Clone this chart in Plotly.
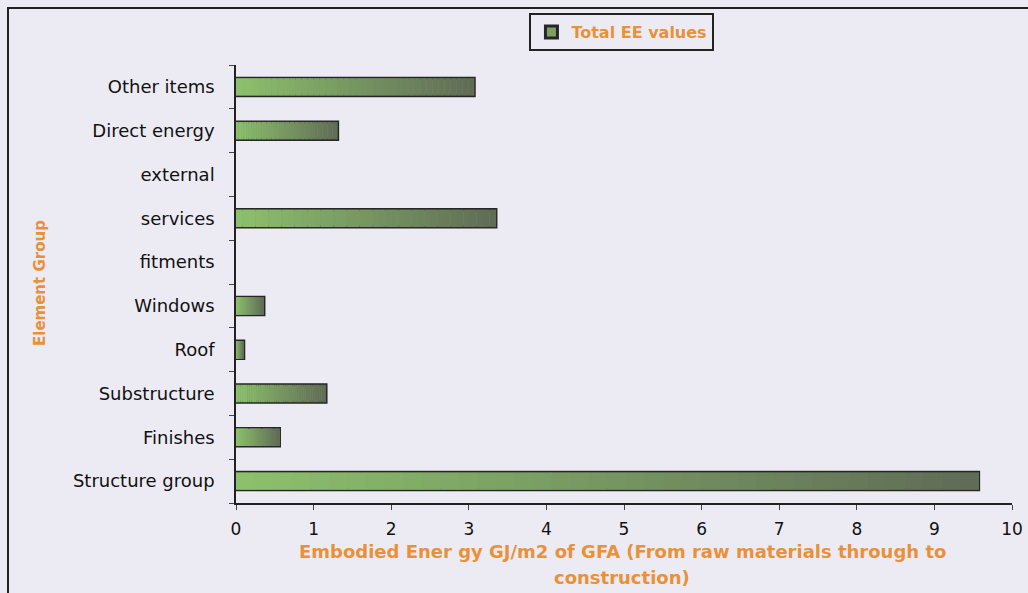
import plotly.graph_objects as go

categories = ["Structure group", "Finishes", "Substructure", "Roof", "Windows",
              "fitments", "services", "external", "Direct energy", "Other items"]
total_ee = [9.57, 0.56, 1.16, 0.10, 0.36, 0.0, 3.35, 0.0, 1.31, 3.07]
x_ticks = list(range(0, 11))

orange = "#e8913a"
bg = "#ecebf3"
font_fam = "DejaVu Sans, Arial, sans-serif"

W, H = 1028, 593
ML, MR, MT, MB = 236, 16, 65, 90
PW, PH = W - ML - MR, H - MT - MB

fig = go.Figure()
# base bar with outline (also the legend entry)
fig.add_trace(go.Bar(
    y=categories, x=total_ee, orientation="h", name="Total EE values",
    marker=dict(color="#7e9e63",
                line=dict(color="#262626", width=[3 if v > 0 else 0 for v in total_ee])),
))
# gradient overlay: each bar split into equal segments of its own length
N = 40
c0 = (140, 192, 108)
c1 = (96, 108, 86)
for k in range(N):
    t = k / (N - 1)
    col = "rgb(%d,%d,%d)" % tuple(round(a + (b - a) * t) for a, b in zip(c0, c1))
    fig.add_trace(go.Bar(
        y=categories, x=[v / N * 1.02 for v in total_ee], base=[v * k / N for v in total_ee],
        orientation="h", showlegend=False, hoverinfo="skip",
        marker=dict(color=col, line=dict(width=0)),
    ))

fig.update_layout(
    width=W, height=H,
    paper_bgcolor=bg, plot_bgcolor=bg,
    margin=dict(l=ML, r=MR, t=MT, b=MB, autoexpand=False),
    barmode="overlay", bargap=0.6,
    font=dict(family=font_fam, size=18, color="#111"),
    showlegend=True,
    legend=dict(
        x=0.605, y=0.978, xref="container", yref="container",
        xanchor="center", yanchor="top",
        orientation="h",
        bgcolor=bg, bordercolor="#222", borderwidth=2,
        font=dict(color=orange, size=16, family=font_fam, weight="bold"),
        itemwidth=30,
    ),
    xaxis=dict(
        range=[0, 10], tickvals=x_ticks, ticks="outside", ticklen=5,
        showline=True, linecolor="#222", linewidth=1.5, showgrid=False, zeroline=False,
        tickfont=dict(size=17, color="#111"), ticklabelstandoff=5, automargin=False,
    ),
    yaxis=dict(
        type="category", ticks="outside", ticklen=5, tickson="boundaries",
        showline=True, linecolor="#222", linewidth=1.5, showgrid=False,
        tickfont=dict(size=18, color="#111"), ticklabelstandoff=16, automargin=False,
    ),
    annotations=[
        dict(text="Element Group", textangle=-90,
             xref="paper", yref="paper", x=(40 - ML) / PW, y=(MT + PH - 283) / PH,
             xanchor="center", yanchor="middle", showarrow=False,
             font=dict(color=orange, size=15, weight="bold")),
        dict(text="Embodied Ener gy GJ/m2 of GFA (From raw materials through to",
             xref="paper", yref="paper", x=(622 - ML) / PW, y=-(551 - (MT + PH)) / PH,
             xanchor="center", yanchor="middle", showarrow=False,
             font=dict(color=orange, size=18, weight="bold")),
        dict(text="construction)",
             xref="paper", yref="paper", x=(622 - ML) / PW, y=-(577 - (MT + PH)) / PH,
             xanchor="center", yanchor="middle", showarrow=False,
             font=dict(color=orange, size=18, weight="bold")),
    ],
    shapes=[dict(type="rect", xref="paper", yref="paper",
                 x0=(8 - ML) / PW, x1=(W + 20 - ML) / PW,
                 y0=-(H + 20 - (MT + PH)) / PH, y1=1 + (MT - 8) / PH,
                 line=dict(color="#222", width=2), fillcolor="rgba(0,0,0,0)")],
)

fig.write_html("out.html", config={"displayModeBar": False},
               post_script="document.body.style.margin='0';document.body.style.background='%s';" % bg)
